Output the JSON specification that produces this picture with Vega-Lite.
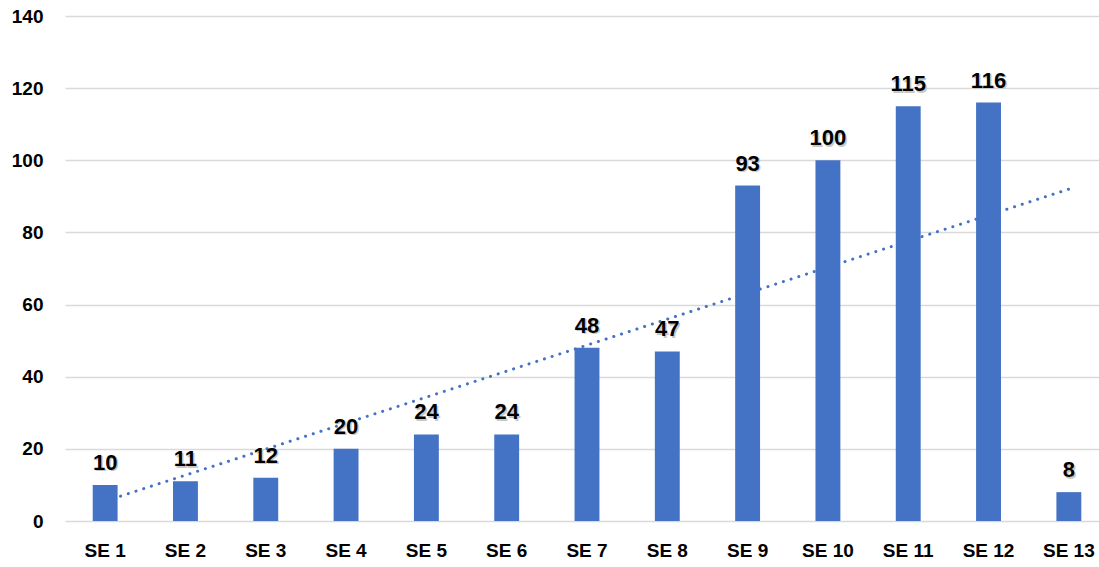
{
  "$schema": "https://vega.github.io/schema/vega-lite/v6.json",
  "autosize": {"type": "none"},
  "padding": {"left": 65, "top": 16, "right": 0, "bottom": 46},
  "width": 1044,
  "height": 505,
  "background": "white",
  "config": {
    "view": {"stroke": null},
    "font": "Liberation Sans, Arial, sans-serif"
  },
  "datasets": {
    "cases": [
      {"week": "SE 1", "cases": 10},
      {"week": "SE 2", "cases": 11},
      {"week": "SE 3", "cases": 12},
      {"week": "SE 4", "cases": 20},
      {"week": "SE 5", "cases": 24},
      {"week": "SE 6", "cases": 24},
      {"week": "SE 7", "cases": 48},
      {"week": "SE 8", "cases": 47},
      {"week": "SE 9", "cases": 93},
      {"week": "SE 10", "cases": 100},
      {"week": "SE 11", "cases": 115},
      {"week": "SE 12", "cases": 116},
      {"week": "SE 13", "cases": 8}
    ],
    "trend": [
      {"week": "SE 1", "trend": 5.5},
      {"week": "SE 13", "trend": 92}
    ]
  },
  "encoding": {
    "x": {
      "field": "week",
      "type": "ordinal",
      "sort": null,
      "scale": {"paddingInner": 0.69, "paddingOuter": 0.345},
      "axis": {
        "title": null,
        "labelAngle": 0,
        "domain": false,
        "ticks": false,
        "labelPadding": 20,
        "labelFontSize": 19,
        "labelFontWeight": "bold",
        "labelColor": "#000000"
      }
    }
  },
  "layer": [
    {
      "data": {"name": "cases"},
      "mark": {"type": "bar", "color": "#4472C4"},
      "encoding": {
        "y": {
          "field": "cases",
          "type": "quantitative",
          "scale": {"domain": [0, 140], "nice": false},
          "axis": {
            "title": null,
            "values": [0, 20, 40, 60, 80, 100, 120, 140],
            "domain": false,
            "ticks": false,
            "labelPadding": 22,
            "labelFontSize": 19,
            "labelFontWeight": "bold",
            "labelColor": "#000000",
            "gridColor": "#d9d9d9",
            "gridWidth": 1.5
          }
        }
      }
    },
    {
      "data": {"name": "trend"},
      "mark": {"type": "line", "color": "#4472C4", "strokeWidth": 3, "strokeDash": [0.1, 8], "strokeCap": "round"},
      "encoding": {
        "y": {"field": "trend", "type": "quantitative"}
      }
    },
    {
      "data": {"name": "cases"},
      "mark": {"type": "text", "baseline": "bottom", "dy": -8.5, "dx": 1.5, "fontSize": 22, "fontWeight": "bold", "color": "#c8c8c8"},
      "encoding": {
        "y": {"field": "cases", "type": "quantitative"},
        "text": {"field": "cases", "type": "quantitative"}
      }
    },
    {
      "data": {"name": "cases"},
      "mark": {"type": "text", "baseline": "bottom", "dy": -10, "fontSize": 22, "fontWeight": "bold", "color": "#000000"},
      "encoding": {
        "y": {"field": "cases", "type": "quantitative"},
        "text": {"field": "cases", "type": "quantitative"}
      }
    }
  ]
}
